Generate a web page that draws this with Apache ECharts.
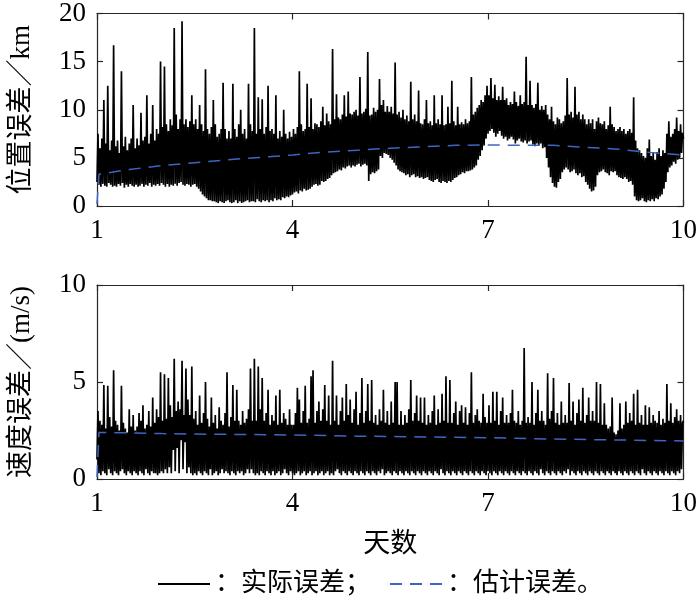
<!DOCTYPE html>
<html><head><meta charset="utf-8">
<script src="https://cdn.jsdelivr.net/npm/echarts@6/dist/echarts.min.js"></script>
<style>html,body{margin:0;padding:0;background:#fff}#c{width:700px;height:598px}</style>
</head><body><div id="c"></div>
<script>
// ---- data ----
const dayTicks = [1, 4, 7, 10];
const posTicks = [0, 5, 10, 15, 20];
const velTicks = [0, 5, 10];
const sampleStepDays = 0.015; // sample spacing of the error series, in days, starting on day 1

// position error (km), actual
const positionError = [
  2.5,7.5, 2.2,6.0, 2.0,7.0, 2.3,11, 2.1,6.5, 2.0,12.5, 2.4,5.8, 2.2,6.8, 2.0,16.7, 2.1,6.2,
  2.0,6.8, 2.3,5.5, 2.1,14, 2.4,6.2, 1.9,7.2, 2.2,5.8, 2.0,6.5, 2.3,7.0, 2.1,10.5, 2.0,6.0,
  2.2,7.0, 2.0,6.3, 2.1,9.7, 2.3,6.8, 2.0,7.2, 2.2,11.5, 2.1,6.5, 2.4,7.5, 2.0,10.5, 2.2,6.8,
  2.1,8.0, 2.3,7.5, 2.1,15, 2.4,8.2, 2.2,14.5, 2.0,8.5, 2.3,7.8, 2.0,9.0, 2.2,8.4, 2.1,18.5,
  2.3,9.5, 2.1,8.0, 2.4,9.0, 2.5,19.2, 2.2,8.5, 2.1,9.0, 2.3,8.2, 2.2,8.8, 2.0,11.5, 2.2,8.5,
  2.3,9.0, 2.0,8.0, 1.8,10.5, 1.5,8.5, 1.2,7.8, 1.0,14.2, 0.8,8.0, 0.6,7.5, 0.6,8.2, 0.5,11,
  0.5,8.5, 0.4,7.2, 0.3,7.5, 0.5,8.0, 0.4,12.8, 0.3,8.0, 0.5,7.0, 0.6,7.8, 0.4,7.0, 0.3,12.7,
  0.4,8.0, 0.6,7.2, 0.3,8.5, 0.5,10, 0.3,7.5, 0.4,8.0, 0.5,7.0, 0.6,12.7, 0.4,8.5, 0.5,7.8,
  0.5,18.5, 0.4,7.5, 0.7,11.3, 0.5,8.0, 0.4,11.1, 0.6,7.5, 0.5,8.2, 0.6,12.5, 0.4,7.8, 0.6,8.0,
  0.5,7.5, 0.8,11.5, 0.6,7.0, 0.7,7.8, 0.6,7.2, 0.9,10, 0.8,7.5, 1.0,7.0, 0.9,7.7, 1.1,7.2,
  1.2,8.0, 1.4,7.5, 1.5,8.2, 1.3,14, 1.6,8.5, 1.5,7.8, 1.8,8.0, 1.6,12.7, 1.7,8.2, 1.8,11.2,
  2.0,8.0, 2.2,8.6, 2.3,8.5, 2.1,8.2, 2.2,8.8, 2.6,10.3, 2.5,8.4, 2.6,9.6, 2.8,8.8, 2.9,8.5,
  3.2,16.3, 3.4,9.0, 3.5,11.6, 3.6,9.2, 3.8,9.0, 3.7,9.5, 4.0,11.5, 3.9,9.3, 4.1,11.9, 4.2,9.6,
  4.0,9.5, 4.2,9.8, 4.1,10.0, 4.3,9.4, 4.4,13.4, 4.1,9.6, 4.3,9.8, 4.4,10.1, 4.2,16, 2.6,9.4,
  3.3,9.5, 3.5,10.2, 3.4,9.8, 3.6,10.0, 3.8,13.2, 5.2,10.5, 5.0,11.0, 5.5,9.8, 5.4,10.4, 5.3,9.8,
  5.0,10.3, 4.8,9.6, 4.5,14.9, 4.2,9.5, 3.8,9.8, 3.6,9.2, 3.5,10.0, 3.4,9.0, 3.2,9.4, 3.3,8.8,
  3.0,12.9, 3.2,9.0, 3.3,9.5, 3.0,8.8, 3.1,12.0, 2.9,8.6, 3.0,8.5, 2.8,9.0, 2.9,11.0, 3.0,8.6,
  2.7,8.8, 2.6,8.4, 2.5,11.5, 2.7,8.6, 2.8,9.0, 2.5,8.5, 2.4,11.5, 2.6,8.4, 2.5,8.5, 2.4,10.3,
  2.6,8.6, 2.5,13.0, 2.7,8.8, 2.9,8.4, 3.0,10.3, 3.2,8.5, 3.3,8.7, 3.5,8.5, 3.4,9.0, 3.6,8.6,
  3.6,8.8, 3.7,13.4, 3.8,9.5, 4.0,9.8, 4.2,10.2, 4.8,10.5, 5.2,11.0, 5.8,10.8, 6.3,11.5, 7.0,12.5,
  7.5,11.5, 7.8,13.3, 8.0,11.2, 7.6,12.6, 7.2,11.0, 7.5,11.4, 7.8,11.0, 7.3,12.4, 7.0,11.0, 7.2,11.2,
  6.8,10.5, 7.0,10.8, 7.2,10.6, 6.9,11.9, 6.5,10.8, 6.8,10.4, 7.0,11.5, 6.7,10.6, 6.6,10.8, 6.8,15.5,
  6.5,10.5, 6.7,13.0, 6.8,10.5, 6.4,10.2, 6.2,10.6, 6.5,12.8, 6.3,10.0, 6.5,10.4, 6.0,10.0, 6.1,10.5,
  5.0,9.5, 4.0,9.0, 3.0,10.3, 2.4,8.8, 2.0,8.5, 1.9,9.2, 2.5,9.0, 2.8,8.6, 3.5,8.8, 3.8,9.4,
  4.0,13.3, 3.8,9.5, 3.5,9.8, 3.6,9.2, 3.8,12.4, 3.4,9.5, 3.2,9.8, 3.4,9.0, 3.0,9.5, 3.1,9.0,
  2.5,8.5, 2.2,9.0, 1.8,8.6, 1.5,9.0, 1.6,8.0, 2.0,8.8, 3.2,9.2, 3.5,8.6, 3.6,8.5, 3.8,8.8,
  3.5,8.0, 3.4,8.4, 3.2,10.3, 3.6,8.5, 3.5,8.2, 3.6,7.8, 3.2,8.0, 3.0,8.2, 2.9,7.8, 2.8,8.0,
  3.0,7.5, 2.8,7.8, 2.5,8.0, 2.6,7.6, 2.2,11.3, 1.0,6.8, 0.6,6.0, 0.5,5.8, 0.6,5.5, 0.8,5.2,
  0.5,5.0, 0.4,6.0, 0.6,6.9, 0.5,5.2, 0.7,5.5, 0.5,4.8, 0.8,5.6, 0.7,6.0, 1.0,5.2, 1.2,5.8,
  1.8,5.5, 2.5,7.5, 3.5,8.8, 4.0,7.2, 4.2,7.5, 4.6,8.0, 4.4,9.2, 4.8,7.8, 5.0,8.5, 5.5,7.6,
  7.0
];

// velocity error (m/s), actual
const velocityError = [
  1.0,3.5, 0.3,3.0, 0.2,2.8, 0.4,4.85, 0.3,2.6, 0.2,4.8, 0.5,3.2, 0.3,2.7, 0.2,5.6, 0.4,3.0,
  0.3,2.8, 0.2,2.5, 0.4,4.8, 0.5,2.9, 0.3,2.6, 0.2,2.4, 0.4,3.6, 0.3,2.7, 0.2,3.3, 0.4,2.5,
  0.3,2.7, 0.2,3.4, 0.4,3.0, 0.3,3.8, 0.2,2.6, 0.5,2.8, 0.3,3.5, 0.2,2.7, 0.4,4.2, 0.3,2.9,
  0.3,3.6, 0.2,3.2, 0.3,5.5, 0.4,3.0, 0.3,5.4, 0.5,3.1, 0.3,5.2, 0.6,3.8, 0.3,3.2, 1.5,6.2,
  0.4,3.5, 1.6,4.0, 0.3,3.6, 2.0,6.1, 0.5,3.3, 1.9,5.7, 0.3,4.1, 0.6,3.3, 0.3,5.8, 0.2,3.1,
  0.3,3.5, 0.2,2.8, 0.4,4.3, 0.3,2.9, 0.2,3.4, 0.4,5.0, 0.3,3.1, 0.2,2.7, 0.5,4.2, 0.2,2.9,
  0.3,3.3, 0.4,2.6, 0.2,3.7, 0.3,3.0, 0.5,2.8, 0.3,3.4, 0.4,5.5, 0.3,2.7, 0.2,3.2, 0.4,4.85,
  0.3,3.0, 0.2,4.6, 0.4,3.0, 0.3,2.8, 0.4,3.5, 0.2,2.9, 0.3,3.1, 0.5,3.6, 0.3,5.7, 0.5,3.0,
  0.3,6.2, 0.2,3.0, 0.3,5.8, 0.2,3.6, 0.4,5.2, 0.3,3.0, 0.2,3.4, 0.4,4.6, 0.3,2.8, 0.2,3.3,
  0.4,3.0, 0.2,4.3, 0.3,2.8, 0.4,4.6, 0.2,2.9, 0.3,3.4, 0.5,3.1, 0.3,2.8, 0.2,3.6, 0.4,2.8,
  0.3,2.8, 0.2,3.4, 0.3,4.7, 0.4,4.1, 0.2,2.9, 0.3,3.5, 0.4,4.8, 0.2,2.9, 0.3,3.1, 0.4,5.3,
  0.2,5.6, 0.3,2.9, 0.4,3.5, 0.2,4.0, 0.3,3.0, 0.4,3.6, 0.2,4.85, 0.3,3.0, 0.4,4.3, 0.2,2.8,
  0.3,6.1, 0.2,3.0, 0.4,4.3, 0.5,2.8, 0.3,3.5, 0.2,4.2, 0.4,3.0, 0.3,4.9, 0.2,3.3, 0.4,4.1,
  0.3,2.9, 0.2,3.6, 0.4,4.5, 0.3,2.8, 0.2,3.4, 0.4,5.2, 0.3,2.9, 0.2,3.5, 0.4,4.9, 0.3,3.0,
  0.2,5.1, 0.4,2.9, 0.3,3.3, 0.2,2.8, 0.4,3.6, 0.3,3.0, 0.5,4.6, 0.2,2.9, 0.3,3.5, 0.4,2.8,
  0.3,4.0, 0.2,2.9, 0.4,5.0, 0.3,5.0, 0.2,2.8, 0.4,3.5, 0.3,2.8, 0.2,3.3, 0.4,2.9, 0.3,3.6,
  0.2,5.1, 0.4,3.0, 0.3,3.4, 0.2,4.3, 0.4,3.0, 0.3,4.2, 0.2,2.9, 0.4,4.2, 0.3,2.8, 0.2,3.3,
  0.4,2.9, 0.3,3.5, 0.2,4.3, 0.4,2.8, 0.3,3.6, 0.2,2.9, 0.5,4.4, 0.3,3.0, 0.2,5.3, 0.4,2.9,
  0.3,5.1, 0.2,2.9, 0.4,3.4, 0.3,4.0, 0.2,2.8, 0.4,3.5, 0.3,3.8, 0.2,2.9, 0.4,3.7, 0.3,2.8,
  0.2,3.4, 0.4,5.5, 0.3,2.9, 0.2,3.3, 0.4,3.6, 0.3,3.0, 0.2,2.9, 0.4,4.4, 0.3,3.2, 0.2,2.9,
  0.4,3.8, 0.3,2.9, 0.2,4.5, 0.4,3.0, 0.3,4.5, 0.2,2.8, 0.4,3.5, 0.3,4.2, 0.2,2.9, 0.4,3.3,
  0.3,2.9, 0.2,3.4, 0.4,4.6, 0.3,3.0, 0.2,2.9, 0.4,3.5, 0.3,2.8, 0.2,3.0, 0.4,6.75, 0.3,2.9,
  0.2,3.2, 0.4,2.9, 0.3,5.0, 0.2,2.8, 0.4,3.4, 0.3,4.6, 0.2,3.0, 0.5,3.5, 0.3,3.0, 0.2,2.8,
  0.4,5.45, 0.3,3.1, 0.2,3.5, 0.4,5.2, 0.3,2.9, 0.2,3.4, 0.4,2.8, 0.3,4.0, 0.2,2.9, 0.4,3.3,
  0.3,2.9, 0.5,4.95, 0.2,3.0, 0.4,4.0, 0.3,2.8, 0.2,3.4, 0.4,4.1, 0.3,3.0, 0.2,4.7, 0.4,2.9,
  0.3,3.3, 0.2,4.2, 0.4,3.0, 0.3,3.5, 0.2,3.0, 0.4,5.0, 0.3,2.9, 0.2,4.9, 0.4,2.8, 0.3,3.9,
  0.2,2.8, 0.4,2.6, 0.3,2.7, 0.2,4.2, 0.4,2.4, 0.3,2.3, 0.2,2.5, 0.4,3.9, 0.3,2.6, 0.2,2.8,
  0.4,4.0, 0.3,2.9, 0.2,3.4, 0.4,3.0, 0.3,4.4, 0.2,2.8, 0.4,4.6, 0.3,2.9, 0.2,3.3, 0.5,2.8,
  0.3,3.8, 0.2,2.8, 0.4,3.7, 0.3,2.9, 0.2,3.3, 0.4,3.0, 0.3,2.9, 0.2,3.5, 0.4,2.8, 0.3,3.1,
  0.2,2.9, 0.4,4.9, 0.3,3.0, 0.2,3.9, 0.4,2.9, 0.3,3.2, 0.2,3.6, 0.4,3.0, 0.3,3.3, 0.5,2.9,
  3.0
];

// estimated errors (dashed)
const estPosDays = [1.0, 1.03, 1.5, 2.0, 2.5, 3.0, 3.5, 4.0, 4.5, 5.0, 5.5, 6.0, 6.5, 7.0, 7.5, 8.0, 8.5, 9.0, 9.5, 10.0];
const estPosError = [0.2, 3.3, 3.8, 4.2, 4.5, 4.8, 5.05, 5.3, 5.6, 5.8, 6.0, 6.15, 6.3, 6.35, 6.3, 6.3, 6.1, 5.9, 5.55, 5.3];
const estVelDays = [1.0, 1.03, 1.5, 2.0, 3.0, 4.0, 5.0, 6.0, 7.0, 8.0, 9.0, 10.0];
const estVelError = [0.1, 2.4, 2.38, 2.34, 2.3, 2.27, 2.21, 2.17, 2.13, 2.06, 2.01, 1.96];

const legendNames = ['实际误差', '估计误差'];
const xName = '天数';
const posName = '位置误差／km';
const velName = '速度误差／(m/s)';

// ---- chart ----
const NUMFONT = "'Liberation Serif', serif";
const FONT = "'Liberation Serif', 'Noto Sans CJK SC', serif";
const AX = '#262626';
const BLUE = '#4064c4';
const days = positionError.map((_, i) => 1 + i * sampleStepDays);
const daysV = velocityError.map((_, i) => 1 + i * sampleStepDays);

function xAx(gridIndex, position, labels, name) {
  return {
    type: 'value', gridIndex, position, min: 1, max: 10,
    name: name || '', nameLocation: 'middle', nameGap: 52,
    nameTextStyle: { fontSize: 27, color: '#000', fontFamily: FONT },
    axisLine: { show: true, onZero: false, lineStyle: { color: AX, width: 1.2 } },
    axisTick: { show: true, inside: true, length: 6, customValues: dayTicks, lineStyle: { color: AX, width: 1.2 } },
    axisLabel: { show: labels, customValues: dayTicks, margin: 11, fontSize: 27, color: '#000', fontFamily: NUMFONT },
    splitLine: { show: false }
  };
}
function yAx(gridIndex, position, max, ticks, labels, name) {
  return {
    type: 'value', gridIndex, position, min: 0, max, interval: ticks[1] - ticks[0],
    name: name || '', nameLocation: 'middle', nameGap: 62, nameRotate: 90,
    nameTextStyle: { fontSize: 27, color: '#000', fontFamily: FONT },
    axisLine: { show: true, onZero: false, lineStyle: { color: AX, width: 1.2 } },
    axisTick: { show: true, inside: true, length: 6, lineStyle: { color: AX, width: 1.2 } },
    axisLabel: { show: labels, margin: 11, fontSize: 27, color: '#000', fontFamily: NUMFONT },
    splitLine: { show: false }
  };
}

const chart = echarts.init(document.getElementById('c'), null, { renderer: 'canvas' });
chart.setOption({
  animation: false,
  backgroundColor: '#fff',
  grid: [
    { left: 92, top: 11, width: 597, height: 195 },
    { left: 92, top: 285, width: 597, height: 194 }
  ],
  xAxis: [
    xAx(0, 'bottom', true),
    xAx(0, 'top', false),
    xAx(1, 'bottom', true, xName),
    xAx(1, 'top', false)
  ],
  yAxis: [
    yAx(0, 'left', 20, posTicks, true, posName),
    yAx(0, 'right', 20, posTicks, false),
    yAx(1, 'left', 10, velTicks, true, velName),
    yAx(1, 'right', 10, velTicks, false)
  ],
  legend: {
    left: 152, top: 566, itemWidth: 52, itemHeight: 14, itemGap: 18,
    itemStyle: { opacity: 0 },
    textStyle: { fontSize: 26, color: '#000', fontFamily: FONT },
    data: legendNames,
    formatter: n => n === legendNames[0] ? '：' + n + '；' : '：' + n + '。'
  },
  series: [
    { type: 'line', name: legendNames[0], xAxisIndex: 0, yAxisIndex: 0, symbol: 'none', silent: true,
      data: positionError.map((v, i) => [days[i], v]),
      lineStyle: { color: '#000', width: 1.7, join: 'bevel' }, itemStyle: { color: '#000' } },
    { type: 'line', name: legendNames[1], xAxisIndex: 0, yAxisIndex: 0, symbol: 'none', silent: true, z: 3,
      data: estPosDays.map((d, i) => [d, estPosError[i]]),
      lineStyle: { color: BLUE, width: 1.5, type: [12, 8] }, itemStyle: { color: BLUE } },
    { type: 'line', name: legendNames[0], xAxisIndex: 2, yAxisIndex: 2, symbol: 'none', silent: true,
      data: velocityError.map((v, i) => [daysV[i], v]),
      lineStyle: { color: '#000', width: 1.7, join: 'bevel' }, itemStyle: { color: '#000' } },
    { type: 'line', name: legendNames[1], xAxisIndex: 2, yAxisIndex: 2, symbol: 'none', silent: true, z: 3,
      data: estVelDays.map((d, i) => [d, estVelError[i]]),
      lineStyle: { color: BLUE, width: 1.5, type: [12, 8] }, itemStyle: { color: BLUE } }
  ]
});
</script></body></html>
